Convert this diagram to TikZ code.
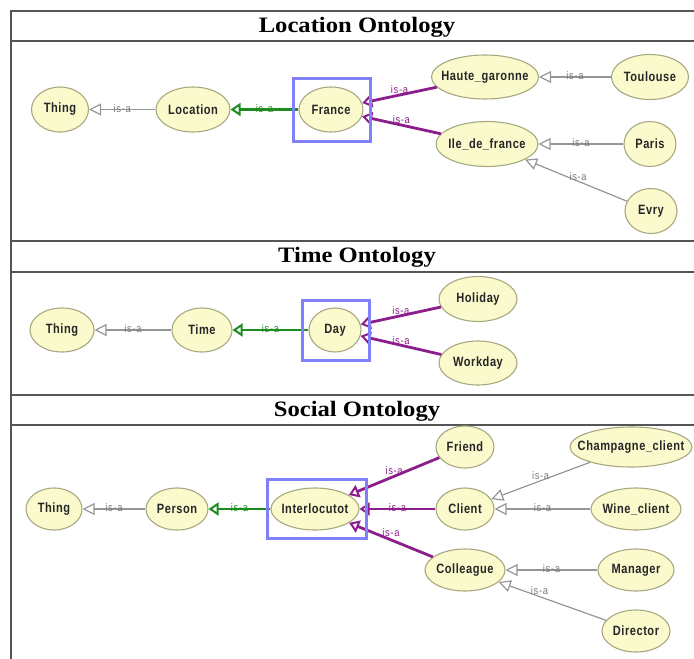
\documentclass[tikz,border=0pt]{standalone}
\usepackage{fontspec}
\usetikzlibrary{shapes.geometric,arrows.meta}
\setmainfont{Liberation Serif}
\newfontfamily\nodefont[FakeStretch=0.82,LetterSpace=4]{Liberation Sans}
\newfontfamily\labfont[FakeStretch=0.85,LetterSpace=6]{Liberation Sans}
\newfontfamily\titlefont[FakeStretch=1.12]{Liberation Serif}
\definecolor{ovalfill}{HTML}{FAFACD}
\definecolor{ovalline}{HTML}{A8A880}
\definecolor{isagray}{HTML}{959595}
\definecolor{labgray}{HTML}{7A7A7A}
\definecolor{isagreen}{HTML}{1E8C1E}
\definecolor{isapurple}{HTML}{8C1E8C}
\definecolor{focusblue}{HTML}{8080F8}
\definecolor{frame}{HTML}{555555}
\tikzset{
  cls/.style={ellipse, draw=ovalline, fill=ovalfill, line width=1.1pt, inner sep=0pt,
    text=black!85, font=\nodefont\bfseries\fontsize{13.5}{13.5}\selectfont},
  lab/.style={inner sep=0pt, font=\labfont\fontsize{11}{11}\selectfont, yshift=1pt},
  isa/.style={draw=isagray, line width=1.2pt, -{Triangle[open,length=12pt,width=12pt]}},
  isabold/.style={line width=2.8pt, -{Triangle[open,length=10pt,width=13pt,line width=2pt]}},
  isagr/.style={isabold, draw=isagreen},
  isapu/.style={isabold, draw=isapurple},
  lgray/.style={lab, text=labgray},
  lgreen/.style={lab, text=isagreen},
  lpurple/.style={lab, text=isapurple},
  focus/.style={draw=focusblue, line width=3pt},
  rule/.style={draw=frame, line width=2pt},
  heading/.style={font=\titlefont\bfseries\fontsize{22}{22}\selectfont, inner sep=0pt}
}
\begin{document}
\begin{tikzpicture}[x=1pt,y=-1pt]
\useasboundingbox (0,0) rectangle (694,659);

% frame and section rules
\coordinate (fTL) at (11,11);
\coordinate (fBL) at (11,659);
\draw[rule] (fBL) -- (fTL) -- (694,11);
\draw[rule] (11,41) -- (694,41);
\draw[rule] (11,241) -- (694,241);
\draw[rule] (11,272) -- (694,272);
\draw[rule] (11,395) -- (694,395);
\draw[rule] (11,425) -- (694,425);

% headings
\node[heading] (hLoc) at (357,27) {Location Ontology};
\node[heading] (hTime) at (357,257) {Time Ontology};
\node[heading] (hSoc) at (357,411) {Social Ontology};

% ---------- location ontology ----------
\node[cls, minimum width=57pt, minimum height=45pt] (thingL) at (60,109.5) {\makebox[0pt]{Thing}};
\node[cls, minimum width=74pt, minimum height=45pt] (location) at (193,109.5) {\makebox[0pt]{Location}};
\node[cls, minimum width=64pt, minimum height=45pt] (france) at (331,109.5) {\makebox[0pt]{France}};
\node[cls, minimum width=107pt, minimum height=44pt] (haute) at (485,77) {\makebox[0pt]{Haute\_garonne}};
\node[cls, minimum width=77pt, minimum height=45pt] (toulouse) at (650,77) {\makebox[0pt]{Toulouse}};
\node[cls, minimum width=102pt, minimum height=45pt] (ile) at (487,144) {\makebox[0pt]{Ile\_de\_france}};
\node[cls, minimum width=52pt, minimum height=45pt] (paris) at (650,144) {\makebox[0pt]{Paris}};
\node[cls, minimum width=52pt, minimum height=45pt] (evry) at (651,211) {\makebox[0pt]{Evry}};

\draw[isa] (location) -- node[lgray] {is-a} (thingL);
\draw[isagr] (france) -- node[lgreen] {is-a} (location);
\draw[isapu] (haute) -- node[lpurple, yshift=4pt] {is-a} (france);
\draw[isapu] (ile) -- node[lpurple, yshift=5pt] {is-a} (france);
\draw[isa] (toulouse) -- node[lgray] {is-a} (haute);
\draw[isa] (paris) -- node[lgray] {is-a} (ile);
\draw[isa] (evry) -- node[lgray, pos=0.48, yshift=4pt] {is-a} (ile);
\draw[focus] (293,78) rectangle (370,141);

% ---------- time ontology ----------
\node[cls, minimum width=64pt, minimum height=44pt] (thingT) at (62,330) {\makebox[0pt]{Thing}};
\node[cls, minimum width=60pt, minimum height=44pt] (time) at (202,330) {\makebox[0pt]{Time}};
\node[cls, minimum width=52pt, minimum height=44pt] (day) at (335,330) {\makebox[0pt]{Day}};
\node[cls, minimum width=78pt, minimum height=45pt] (holiday) at (478,299) {\makebox[0pt]{Holiday}};
\node[cls, minimum width=78pt, minimum height=44pt] (workday) at (478,363) {\makebox[0pt]{Workday}};

\draw[isa] (time) -- node[lgray] {is-a} (thingT);
\draw[isagr] (day) -- node[lgreen] {is-a} (time);
\draw[isapu] (holiday) -- node[lpurple, yshift=4pt] {is-a} (day);
\draw[isapu] (workday) -- node[lpurple, yshift=4pt] {is-a} (day);
\draw[focus] (302,300) rectangle (369,360);

% ---------- social ontology ----------
\node[cls, minimum width=56pt, minimum height=42pt] (thingS) at (54,509) {\makebox[0pt]{Thing}};
\node[cls, minimum width=62pt, minimum height=42pt] (person) at (177,509) {\makebox[0pt]{Person}};
\node[cls, minimum width=88pt, minimum height=42pt] (inter) at (315,509) {\makebox[0pt]{Interlocutot}};
\node[cls, minimum width=58pt, minimum height=42pt] (friend) at (465,447) {\makebox[0pt]{Friend}};
\node[cls, minimum width=58pt, minimum height=42pt] (client) at (465,509) {\makebox[0pt]{Client}};
\node[cls, minimum width=80pt, minimum height=42pt] (colleague) at (465,570) {\makebox[0pt]{Colleague}};
\node[cls, minimum width=122pt, minimum height=40pt] (champ) at (631,447) {\makebox[0pt]{Champagne\_client}};
\node[cls, minimum width=90pt, minimum height=42pt] (wine) at (636,509) {\makebox[0pt]{Wine\_client}};
\node[cls, minimum width=76pt, minimum height=42pt] (manager) at (636,570) {\makebox[0pt]{Manager}};
\node[cls, minimum width=68pt, minimum height=42pt] (director) at (636,631) {\makebox[0pt]{Director}};

\draw[isa] (person) -- node[lgray] {is-a} (thingS);
\draw[isagr] (inter) -- node[lgreen] {is-a} (person);
\draw[isapu] (friend) -- node[lpurple, yshift=5pt] {is-a} (inter);
\draw[isapu] (client) -- node[lpurple] {is-a} (inter);
\draw[isapu] (colleague) -- node[lpurple, yshift=6pt] {is-a} (inter);
\draw[isa] (champ) -- node[lgray, yshift=4pt] {is-a} (client);
\draw[isa] (wine) -- node[lgray] {is-a} (client);
\draw[isa] (manager) -- node[lgray] {is-a} (colleague);
\draw[isa] (director) -- node[lgray, pos=0.62, yshift=5pt] {is-a} (colleague);
\draw[focus] (267,479) rectangle (366,538);
\end{tikzpicture}
\end{document}
